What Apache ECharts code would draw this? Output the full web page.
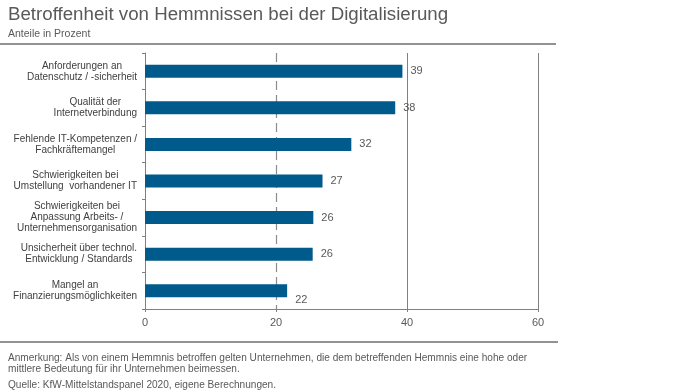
<!DOCTYPE html>
<html>
<head>
<meta charset="utf-8">
<script src="https://cdn.jsdelivr.net/npm/echarts@6/dist/echarts.min.js"></script>
<style>html,body{margin:0;padding:0;background:#fff}#c{width:696px;height:392px}</style>
</head>
<body>
<div id="c"></div>
<script>
const categories = [
  "Anforderungen an\nDatenschutz / -sicherheit",
  "Qualität der\nInternetverbindung",
  "Fehlende IT-Kompetenzen /\nFachkräftemangel",
  "Schwierigkeiten bei\nUmstellung  vorhandener IT",
  "Schwierigkeiten bei\nAnpassung Arbeits- /\nUnternehmensorganisation",
  "Unsicherheit über technol.\nEntwicklung / Standards",
  "Mangel an\nFinanzierungsmöglichkeiten"
];
const values = [39.3, 38.2, 31.5, 27.1, 25.7, 25.6, 21.7];
const valueLabels = ["39", "38", "32", "27", "26", "26", "22"];
const xTicks = [0, 20, 40, 60];

const titleText = "Betroffenheit von Hemmnissen bei der Digitalisierung";
const subtitleText = "Anteile in Prozent";
const noteLine1 = "Anmerkung: Als von einem Hemmnis betroffen gelten Unternehmen, die dem betreffenden Hemmnis eine hohe oder";
const noteLine2 = "mittlere Bedeutung für ihr Unternehmen beimessen.";
const sourceText = "Quelle: KfW-Mittelstandspanel 2020, eigene Berechnungen.";

const FONT = "'Liberation Sans', Arial, sans-serif";
const chart = echarts.init(document.getElementById('c'), null, {renderer: 'canvas'});

const lastIdx = values.length - 1;
const barData = values.map((v, i) => {
  const item = {value: v};
  if (i === lastIdx) item.label = {offset: [0, 9]};
  return item;
});

chart.setOption({
  animation: false,
  backgroundColor: '#ffffff',
  textStyle: {fontFamily: FONT},
  grid: {left: 145, right: 158, top: 53, bottom: 83, containLabel: false},
  xAxis: {
    type: 'value', min: xTicks[0], max: xTicks[xTicks.length - 1], interval: 20,
    axisLine: {show: true, lineStyle: {color: '#808080', width: 1}},
    axisTick: {show: true, length: 3, lineStyle: {color: '#808080'}},
    axisLabel: {color: '#595959', fontSize: 11, fontFamily: FONT, margin: 8},
    splitLine: {show: false}
  },
  yAxis: {
    type: 'category', data: categories, inverse: true,
    axisLine: {show: true, lineStyle: {color: '#808080', width: 1}},
    axisTick: {show: true, length: 3, lineStyle: {color: '#808080'}},
    axisLabel: {
      color: '#404040', fontSize: 10, fontFamily: FONT, margin: 8, align: 'right',
      lineHeight: 11,
      formatter: function (v) {
        return v.split('\n').map(s => '{c|' + s + '}').join('\n');
      },
      rich: {c: {align: 'center', fontSize: 10, lineHeight: 11, color: '#404040', fontFamily: FONT}}
    }
  },
  series: [{
    type: 'bar',
    data: barData,
    barWidth: 13,
    z: 3,
    itemStyle: {color: '#005a8c'},
    label: {
      show: true, position: 'right', distance: 8, color: '#595959', fontSize: 11, fontFamily: FONT,
      formatter: p => valueLabels[p.dataIndex]
    },
    markLine: {
      silent: true, symbol: 'none', z: 1,
      label: {show: false},
      data: [
        {xAxis: xTicks[1], lineStyle: {type: [9, 5], color: '#8c8c8c', width: 1.2}},
        {xAxis: xTicks[2], lineStyle: {type: 'solid', color: '#808080', width: 1}},
        {xAxis: xTicks[3], lineStyle: {type: 'solid', color: '#808080', width: 1}}
      ]
    }
  }],
  graphic: [
    {type: 'text', left: 8, top: 5, style: {text: titleText, font: '18.7px ' + FONT, fill: '#595959'}},
    {type: 'text', left: 8, top: 29, style: {text: subtitleText, font: '10.5px ' + FONT, fill: '#595959'}},
    {type: 'line', shape: {x1: 0, y1: 44, x2: 556, y2: 44}, style: {stroke: '#6e6e6e', lineWidth: 1.5}},
    {type: 'line', shape: {x1: 0, y1: 342, x2: 558, y2: 342}, style: {stroke: '#6e6e6e', lineWidth: 1.5}},
    {type: 'text', left: 8, top: 353, style: {text: noteLine1, font: '10.1px ' + FONT, fill: '#595959'}},
    {type: 'text', left: 8, top: 364, style: {text: noteLine2, font: '10.1px ' + FONT, fill: '#595959'}},
    {type: 'text', left: 8, top: 380, style: {text: sourceText, font: '10.1px ' + FONT, fill: '#595959'}}
  ]
});
</script>
</body>
</html>
